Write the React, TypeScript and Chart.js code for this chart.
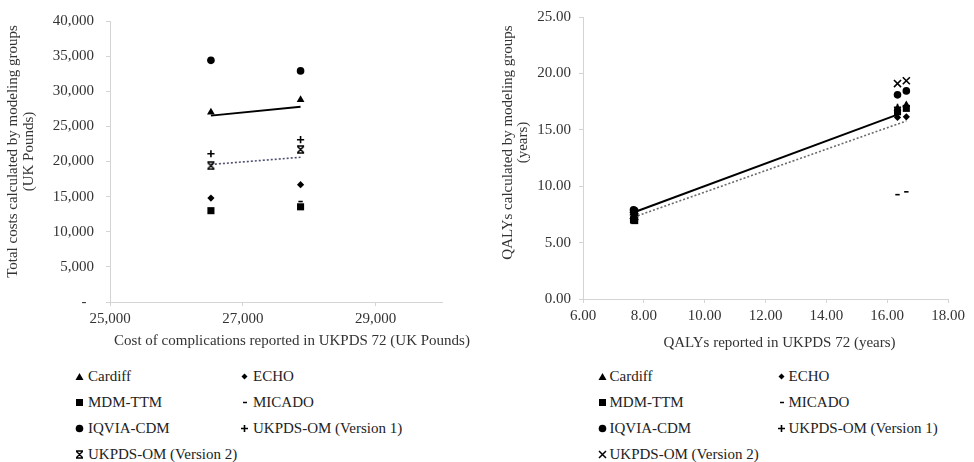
import React, { useEffect, useRef } from 'react';
import { Chart, registerables } from 'chart.js';

Chart.register(...registerables);

// ---------- data: left chart (costs) ----------
const costTicksX = [25000, 27000, 29000];
const costReported = [26520, 27870];
const costCardiff = [27000, 28800];
const costEcho = [14800, 16700];
const costMdm = [13000, 13550];
const costMicado = [13150, 14300];
const costIqvia = [34400, 32900];
const costUkpds1 = [21100, 23100];
const costUkpds2 = [19400, 21700];
const costTrendX = [26520, 27870];
const costTrendSolid = [26530, 27780];
const costTrendDotted = [19580, 20600];

// ---------- data: right chart (QALYs) ----------
const qalyReported = [7.66, 7.7, 16.34, 16.63];
const qalyCardiff = [7.6, 7.5, 16.9, 17.2];
const qalyEcho = [7.3, 7.2, 16.1, 16.15];
const qalyMdm = [7.0, 6.95, 16.6, 16.9];
const qalyMicado = [7.15, 7.1, 9.25, 9.5];
const qalyIqvia = [7.9, 7.85, 18.1, 18.45];
const qalyUkpds1 = [7.5, 7.45, 17.0, 17.1];
const qalyUkpds2 = [7.4, 7.3, 19.1, 19.35];
const qalyTrendSolidX = [7.68, 16.36];
const qalyTrendSolid = [7.69, 16.37];
const qalyTrendDottedX = [7.68, 16.63];
const qalyTrendDotted = [7.27, 15.78];

const seriesNames = [
  'Cardiff',
  'ECHO',
  'MDM-TTM',
  'MICADO',
  'IQVIA-CDM',
  'UKPDS-OM (Version 1)',
  'UKPDS-OM (Version 2)',
];

const FONT = '"Liberation Serif", "Times New Roman", serif';
const TEXT = '#333333';
const AXIS = '#d4d4d4';

const pts = (xs: number[], ys: number[]) => ys.map((y, i) => ({ x: xs[i], y }));

function makeStarMarker(): HTMLCanvasElement {
  const c = document.createElement('canvas');
  c.width = 9;
  c.height = 9;
  const g = c.getContext('2d')!;
  g.strokeStyle = '#000';
  g.lineWidth = 1.5;
  g.beginPath();
  g.moveTo(1.5, 1.5);
  g.lineTo(7.5, 7.5);
  g.moveTo(7.5, 1.5);
  g.lineTo(1.5, 7.5);
  g.moveTo(1, 1);
  g.lineTo(8, 1);
  g.moveTo(1, 8);
  g.lineTo(8, 8);
  g.stroke();
  return c;
}

function markerDs(label: string, data: any[], style: any, radius: number, stroke = false) {
  return {
    label,
    data,
    showLine: false,
    pointStyle: style,
    pointRadius: radius,
    pointHoverRadius: radius,
    backgroundColor: '#000',
    borderColor: '#000',
    pointBorderWidth: stroke ? 1.6 : 0,
  };
}

function lineDs(label: string, data: any[], color: string, width: number, dash: number[]) {
  return {
    label,
    data,
    showLine: true,
    pointRadius: 0,
    pointHoverRadius: 0,
    borderColor: color,
    borderWidth: width,
    borderDash: dash,
    backgroundColor: color,
  };
}

const titlePlugin = {
  id: 'axisTitles',
  afterDraw(chart: any, _args: any, opts: any) {
    const { ctx, chartArea: a } = chart;
    ctx.save();
    ctx.fillStyle = TEXT;
    ctx.font = `15px ${FONT}`;
    ctx.textAlign = 'center';
    ctx.textBaseline = 'middle';
    ctx.fillText(opts.xText, (a.left + a.right) / 2 + opts.xDx, opts.xY);
    ctx.translate(opts.yX, (a.top + a.bottom) / 2 + opts.yDy);
    ctx.rotate(-Math.PI / 2);
    opts.yLines.forEach((l: string, i: number) => ctx.fillText(l, 0, i * opts.yGap));
    ctx.restore();
  },
};

function axisCommon(extra: any) {
  return {
    type: 'linear',
    grid: { drawOnChartArea: false, drawTicks: true, tickLength: 4, color: AXIS },
    border: { display: true, color: AXIS, width: 1 },
    title: { display: false },
    ...extra,
    ticks: { font: { size: 15, family: FONT }, color: TEXT, maxRotation: 0, ...extra.ticks },
  };
}

function costConfig(): any {
  const star = makeStarMarker();
  return {
    type: 'scatter',
    data: {
      datasets: [
        markerDs(seriesNames[0], pts(costReported, costCardiff), 'triangle', 4.5),
        markerDs(seriesNames[1], pts(costReported, costEcho), 'rectRot', 3.6),
        markerDs(seriesNames[2], pts(costReported, costMdm), 'rect', 5),
        markerDs(seriesNames[3], pts(costReported, costMicado), 'line', 2.2, true),
        markerDs(seriesNames[4], pts(costReported, costIqvia), 'circle', 3.8),
        markerDs(seriesNames[5], pts(costReported, costUkpds1), 'cross', 3.6, true),
        markerDs(seriesNames[6], pts(costReported, costUkpds2), star, 4.5),
        lineDs('trend solid', pts(costTrendX, costTrendSolid), '#000000', 2, []),
        lineDs('trend dotted', pts(costTrendX, costTrendDotted), '#4d5070', 1.6, [2, 2]),
      ],
    },
    plugins: [titlePlugin],
    options: {
      responsive: false,
      animation: false,
      layout: { padding: { left: 0, right: 38, top: 14, bottom: 0 } },
      plugins: {
        legend: { display: false },
        tooltip: { enabled: false },
        axisTitles: {
          xText: 'Cost of complications reported in UKPDS 72 (UK Pounds)',
          xDx: 16,
          xY: 341,
          yLines: ['Total costs calculated by modeling groups', '(UK Pounds)'],
          yX: 13,
          yDy: -10,
          yGap: 16,
        },
      },
      scales: {
        x: axisCommon({
          min: 25000,
          max: 30000,
          afterBuildTicks: (s: any) => {
            s.ticks = costTicksX.map((v) => ({ value: v }));
          },
          afterFit: (s: any) => {
            s.height = 58;
          },
          ticks: {
            padding: 4,
            callback: (v: any) => Number(v).toLocaleString('en-US'),
          },
        }),
        y: axisCommon({
          min: 0,
          max: 40000,
          afterFit: (s: any) => {
            s.width = 110;
          },
          ticks: {
            stepSize: 5000,
            padding: 12,
            callback: (v: any) => (Number(v) === 0 ? '-  ' : Number(v).toLocaleString('en-US')),
          },
        }),
      },
    },
  };
}

function qalyConfig(): any {
  return {
    type: 'scatter',
    data: {
      datasets: [
        markerDs(seriesNames[0], pts(qalyReported, qalyCardiff), 'triangle', 4.5),
        markerDs(seriesNames[1], pts(qalyReported, qalyEcho), 'rectRot', 3.6),
        markerDs(seriesNames[2], pts(qalyReported, qalyMdm), 'rect', 5),
        markerDs(seriesNames[3], pts(qalyReported, qalyMicado), 'line', 2.2, true),
        markerDs(seriesNames[4], pts(qalyReported, qalyIqvia), 'circle', 3.8),
        markerDs(seriesNames[5], pts(qalyReported, qalyUkpds1), 'cross', 3.6, true),
        markerDs(seriesNames[6], pts(qalyReported, qalyUkpds2), 'crossRot', 5, true),
        lineDs('trend solid', pts(qalyTrendSolidX, qalyTrendSolid), '#000000', 2, []),
        lineDs('trend dotted', pts(qalyTrendDottedX, qalyTrendDotted), '#6a6a6a', 1.6, [2, 2]),
      ],
    },
    plugins: [titlePlugin],
    options: {
      responsive: false,
      animation: false,
      layout: { padding: { left: 0, right: 26, top: 17, bottom: 0 } },
      plugins: {
        legend: { display: false },
        tooltip: { enabled: false },
        axisTitles: {
          xText: 'QALYs reported in UKPDS 72 (years)',
          xDx: 14,
          xY: 343,
          yLines: ['QALYs calculated by modeling groups', '(years)'],
          yX: 28,
          yDy: -15.5,
          yGap: 15,
        },
      },
      scales: {
        x: axisCommon({
          min: 6,
          max: 18,
          afterFit: (s: any) => {
            s.height = 63;
          },
          ticks: {
            stepSize: 2,
            padding: 4,
            callback: (v: any) => Number(v).toFixed(2),
          },
        }),
        y: axisCommon({
          min: 0,
          max: 25,
          afterFit: (s: any) => {
            s.width = 103;
          },
          ticks: {
            stepSize: 5,
            padding: 8,
            callback: (v: any) => Number(v).toFixed(2),
          },
        }),
      },
    },
  };
}

function ChartCanvas({ make, left, width, height }: { make: () => any; left: number; width: number; height: number }) {
  const ref = useRef<HTMLCanvasElement | null>(null);
  useEffect(() => {
    if (!ref.current) return;
    const chart = new Chart(ref.current, make());
    return () => chart.destroy();
  }, [make]);
  return (
    <canvas
      ref={ref}
      width={width}
      height={height}
      style={{ position: 'absolute', left, top: 0, width, height }}
    />
  );
}

function Marker({ kind }: { kind: string }) {
  const s = 9;
  let shape: any = null;
  if (kind === 'triangle') shape = <polygon points="4.5,1 8.5,8 0.5,8" fill="#000" />;
  else if (kind === 'diamond') shape = <polygon points="4.5,1.5 7.5,4.5 4.5,7.5 1.5,4.5" fill="#000" />;
  else if (kind === 'square') shape = <rect x="1" y="1" width="7" height="7" fill="#000" />;
  else if (kind === 'dash') shape = <line x1="3" y1="4.5" x2="7" y2="4.5" stroke="#000" strokeWidth="1.5" />;
  else if (kind === 'circle') shape = <circle cx="4.5" cy="4.5" r="3.8" fill="#000" />;
  else if (kind === 'plus')
    shape = (
      <path d="M4.5 1 V8 M1 4.5 H8" stroke="#000" strokeWidth="1.6" fill="none" />
    );
  else if (kind === 'star')
    shape = (
      <path d="M1.5 1.5 L7.5 7.5 M7.5 1.5 L1.5 7.5 M1 1 H8 M1 8 H8" stroke="#000" strokeWidth="1.4" fill="none" />
    );
  else if (kind === 'x')
    shape = <path d="M1 1 L8 8 M8 1 L1 8" stroke="#000" strokeWidth="1.5" fill="none" />;
  return (
    <svg width={s} height={s} style={{ display: 'block', flex: 'none' }}>
      {shape}
    </svg>
  );
}

const legendRows = [376, 402, 428, 454];

function Legend({ col1, col2, gap, v2kind }: { col1: number; col2: number; gap: number; v2kind: string }) {
  const kinds = ['triangle', 'diamond', 'square', 'dash', 'circle', 'plus', v2kind];
  return (
    <>
      {seriesNames.map((name, i) => {
        const col = i % 2 === 0 ? col1 : col2;
        const row = legendRows[Math.floor(i / 2)];
        return (
          <div
            key={name}
            style={{
              position: 'absolute',
              left: col - 4.5,
              top: row - 10,
              height: 20,
              display: 'flex',
              alignItems: 'center',
              whiteSpace: 'nowrap',
              fontFamily: FONT,
              fontSize: 15,
              color: '#222',
            }}
          >
            <Marker kind={kinds[i]} />
            <span style={{ marginLeft: gap - 4.5 }}>{name}</span>
          </div>
        );
      })}
    </>
  );
}

export default function App() {
  return (
    <div
      style={{
        position: 'fixed',
        left: 0,
        top: 0,
        width: 974,
        height: 462,
        background: '#ffffff',
        overflow: 'hidden',
      }}
    >
      <ChartCanvas make={costConfig} left={0} width={480} height={360} />
      <ChartCanvas make={qalyConfig} left={480} width={494} height={362} />
      <Legend col1={79} col2={244} gap={9} v2kind="star" />
      <Legend col1={602} col2={781} gap={7.5} v2kind="x" />
    </div>
  );
}
